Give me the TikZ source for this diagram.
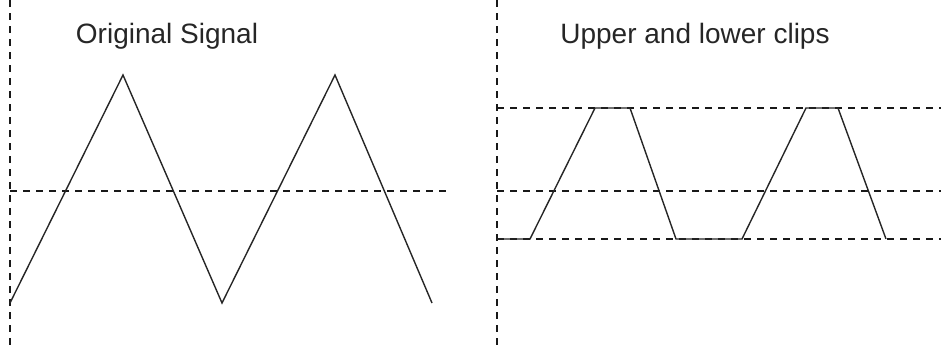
\documentclass[tikz,border=0pt]{standalone}
\usepackage{fontspec}
\setmainfont{Liberation Sans}
\begin{document}
\begin{tikzpicture}[x=1pt,y=-1pt,
  guide/.style={line width=1.5pt, dash pattern=on 7pt off 6pt, color=black!90},
  signal/.style={line width=1.4pt, color=black!85, line join=miter},
  label/.style={anchor=base, inner sep=0pt, font=\fontsize{28}{31}\selectfont, text=black!85}]
\useasboundingbox (0,0) rectangle (941,351);
% left panel
\draw[guide] (10,0) -- (10,351);
\draw[guide] (10,191) -- (447,191);
\node[label] (t1) at (167,43) {Original Signal};
\coordinate (a0) at (10,303);
\coordinate (a1) at (123,75);
\coordinate (a2) at (222,303);
\coordinate (a3) at (335,75);
\coordinate (a4) at (432,303);
\draw[signal] (a0) -- (a1) -- (a2) -- (a3) -- (a4);
% right panel
\draw[guide] (497,0) -- (497,351);
\draw[guide] (497,108) -- (941,108);
\draw[guide] (497,191) -- (941,191);
\draw[guide] (497,239) -- (941,239);
\node[label] (t2) at (695,43) {Upper and lower clips};
\coordinate (b0) at (497,239);
\coordinate (b1) at (530,239);
\coordinate (b2) at (595,108);
\coordinate (b3) at (630,108);
\coordinate (b4) at (676,239);
\coordinate (b5) at (742,239);
\coordinate (b6) at (806,108);
\coordinate (b7) at (838,108);
\coordinate (b8) at (886,239);
\draw[signal] (b0) -- (b1) -- (b2) -- (b3) -- (b4) -- (b5) -- (b6) -- (b7) -- (b8);
\end{tikzpicture}
\end{document}
